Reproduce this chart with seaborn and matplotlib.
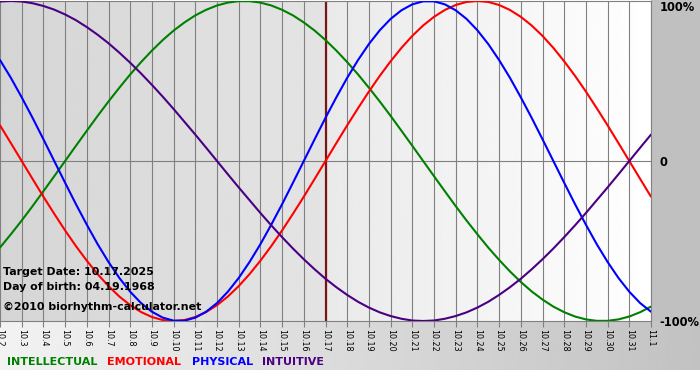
import numpy as np
import pandas as pd
import matplotlib
matplotlib.use('Agg')
import matplotlib.pyplot as plt
from matplotlib.patches import Rectangle
import seaborn as sns

## day labels along the bottom (10.2 .. 11.1)
day_labels = ['10.%d' % d for d in range(2, 32)] + ['11.1']

## sample positions: every half day from 10.2 (0) to 11.1 (30)
sample_days = np.arange(0, 30.5, 0.5)

## cycle values every half day (-1 .. 1)
physical = [0.631, 0.520, 0.398, 0.270, 0.136, 0.000, -0.136, -0.270, -0.398, -0.520,
            -0.631, -0.731, -0.817, -0.888, -0.942, -0.979, -0.998, -0.998, -0.979, -0.942,
            -0.888, -0.817, -0.731, -0.631, -0.520, -0.398, -0.270, -0.136, 0.000, 0.136,
            0.270, 0.398, 0.520, 0.631, 0.731, 0.817, 0.888, 0.942, 0.979, 0.998,
            0.998, 0.979, 0.942, 0.888, 0.817, 0.731, 0.631, 0.520, 0.398, 0.270,
            0.136, 0.000, -0.136, -0.270, -0.398, -0.520, -0.631, -0.731, -0.817, -0.888, -0.942]
emotional = [0.223, 0.112, 0.000, -0.112, -0.223, -0.330, -0.434, -0.532, -0.623, -0.707,
             -0.782, -0.847, -0.901, -0.944, -0.975, -0.994, -1.000, -0.994, -0.975, -0.944,
             -0.901, -0.847, -0.782, -0.707, -0.623, -0.532, -0.434, -0.330, -0.223, -0.112,
             0.000, 0.112, 0.223, 0.330, 0.434, 0.532, 0.623, 0.707, 0.782, 0.847,
             0.901, 0.944, 0.975, 0.994, 1.000, 0.994, 0.975, 0.944, 0.901, 0.847,
             0.782, 0.707, 0.623, 0.532, 0.434, 0.330, 0.223, 0.112, 0.000, -0.112, -0.223]
intellectual = [-0.541, -0.458, -0.372, -0.282, -0.189, -0.095, 0.000, 0.095, 0.189, 0.282,
                0.372, 0.458, 0.541, 0.618, 0.690, 0.756, 0.815, 0.866, 0.910, 0.945,
                0.972, 0.990, 0.999, 0.999, 0.990, 0.972, 0.945, 0.910, 0.866, 0.815,
                0.756, 0.690, 0.618, 0.541, 0.458, 0.372, 0.282, 0.189, 0.095, 0.000,
                -0.095, -0.189, -0.282, -0.372, -0.458, -0.541, -0.618, -0.690, -0.756, -0.815,
                -0.866, -0.910, -0.945, -0.972, -0.990, -0.999, -0.999, -0.990, -0.972, -0.945, -0.910]
intuitive = [0.997, 1.000, 0.997, 0.986, 0.969, 0.946, 0.916, 0.880, 0.837, 0.789,
             0.736, 0.677, 0.614, 0.547, 0.476, 0.402, 0.325, 0.245, 0.165, 0.083,
             0.000, -0.083, -0.165, -0.245, -0.325, -0.402, -0.476, -0.547, -0.614, -0.677,
             -0.736, -0.789, -0.837, -0.880, -0.916, -0.946, -0.969, -0.986, -0.997, -1.000,
             -0.997, -0.986, -0.969, -0.946, -0.916, -0.880, -0.837, -0.789, -0.736, -0.677,
             -0.614, -0.547, -0.476, -0.402, -0.325, -0.245, -0.165, -0.083, 0.000, 0.083, 0.165]

target_day = '10.17'
cycle_names = ['INTELLECTUAL', 'EMOTIONAL', 'PHYSICAL', 'INTUITIVE']
cycle_colors = {'INTELLECTUAL': '#008000', 'EMOTIONAL': '#ff0000',
                'PHYSICAL': '#0000ff', 'INTUITIVE': '#4b0082'}

df = pd.DataFrame({'day': sample_days,
                   'INTELLECTUAL': intellectual, 'EMOTIONAL': emotional,
                   'PHYSICAL': physical, 'INTUITIVE': intuitive})
df_long = df.melt(id_vars='day', var_name='cycle', value_name='value')

sns.set_style('white')
plt.rcParams['font.family'] = ['DejaVu Sans']

W, H = 700, 380
fig = plt.figure(figsize=(7, 3.8), dpi=100)

## background layer in pixel coordinates
bg = fig.add_axes([0, 0, 1, 1], zorder=-1)
bg.axis('off')
grad = np.linspace(0.95, 0.76, 256).reshape(1, -1)
bg.imshow(grad, cmap='gray', vmin=0, vmax=1, aspect='auto',
          extent=(0, W, 370, 321), interpolation='bilinear')
bg.add_patch(Rectangle((651, 0), 49, 321, color='#c0c0c0', lw=0))
bg.set_xlim(0, W)
bg.set_ylim(H, 0)

## main chart area
ax = fig.add_axes([0, 59 / H, 651 / W, 320 / H])
ax.set_facecolor('none')
tpos = day_labels.index(target_day)
nlast = len(day_labels) - 1
ax.imshow(np.linspace(0.835, 0.895, 256).reshape(1, -1), cmap='gray', vmin=0, vmax=1,
          aspect='auto', extent=(0, tpos, -1, 1), interpolation='bilinear', zorder=0)
ax.imshow(np.linspace(0.915, 1.0, 256).reshape(1, -1), cmap='gray', vmin=0, vmax=1,
          aspect='auto', extent=(tpos, nlast, -1, 1), interpolation='bilinear', zorder=0)

sns.lineplot(data=df_long, x='day', y='value', hue='cycle', hue_order=cycle_names,
             palette=cycle_colors, linewidth=1.5, legend=False, ax=ax, zorder=3)

ax.set_xlim(0, nlast)
ax.set_ylim(-1, 1)
ax.set_axisbelow(True)
ax.grid(axis='x', color='#808080', lw=0.8)
ax.axhline(0, color='#808080', lw=0.8, zorder=1)
ax.axvline(tpos, color='#7a1515', lw=1.6, zorder=2)

for side in ['top', 'bottom', 'right']:
    ax.spines[side].set_color('#808080')
    ax.spines[side].set_linewidth(0.8)
ax.spines['left'].set_visible(False)

ax.set_xticks(np.arange(len(day_labels)))
ax.set_xticklabels(day_labels, rotation=-90)
ax.tick_params(axis='x', bottom=True, length=4, width=0.8, color='#808080',
               labelsize=5.8, pad=1.5, labelcolor='black')
ax.set_xlabel('')
ax.set_ylabel('')

ax.yaxis.tick_right()
ax.set_yticks([-1, 0, 1])
ax.set_yticklabels(['-100%', '0', '100%'])
ax.tick_params(axis='y', right=True, left=False, length=0, pad=6,
               labelsize=8.3, labelcolor='black')
for lab in ax.get_yticklabels():
    lab.set_fontweight('bold')
ax.get_yticklabels()[2].set_va('top')

## info text
info = ['Target Date: 10.17.2025', 'Day of birth: 04.19.1968', '\u00a92010 biorhythm-calculator.net']
for txt, ypx in zip(info, [272, 287, 307]):
    fig.text(3 / W, 1 - ypx / H, txt, fontsize=7.9, fontweight='bold',
             color='black', va='center', ha='left')

## legend words
for name, xpx in zip(cycle_names, [7, 107, 192, 262]):
    fig.text(xpx / W, 1 - 362 / H, name, fontsize=8, fontweight='bold',
             color=cycle_colors[name], va='center', ha='left')

fig.savefig('out.png', dpi=100)
